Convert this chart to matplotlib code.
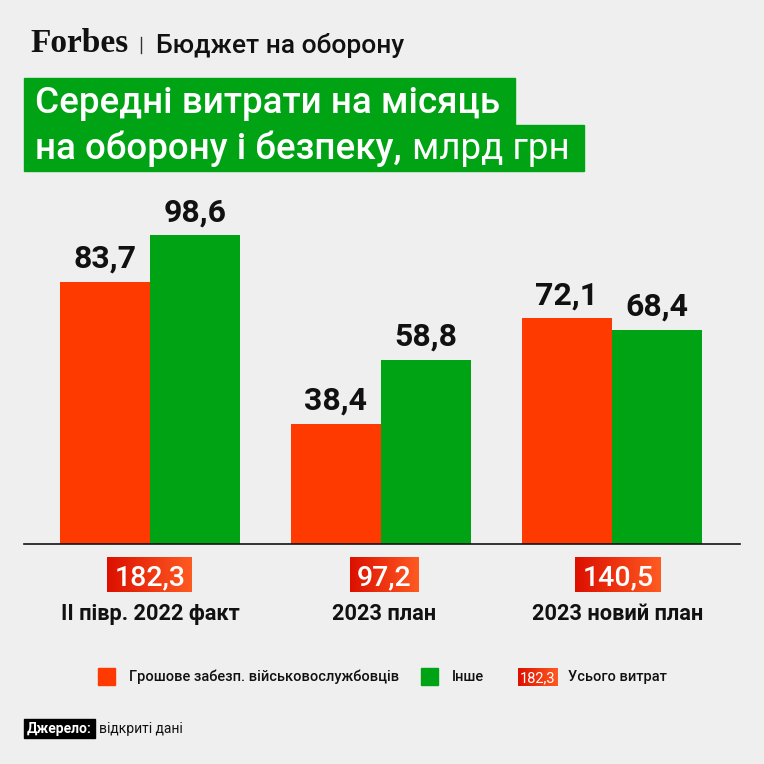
import numpy as np
import matplotlib
matplotlib.use('Agg')
import matplotlib.pyplot as plt
from matplotlib.patches import Rectangle
from matplotlib.colors import LinearSegmentedColormap

plt.rcParams['font.family'] = ['Roboto', 'DejaVu Sans']

# дані
categories = ['II півр. 2022 факт', '2023 план', '2023 новий план']
pay = [83.7, 38.4, 72.1]        # грошове забезпечення
other = [98.6, 58.8, 68.4]      # інше
totals = ['182,3', '97,2', '140,5']
pay_lbl = ['83,7', '38,4', '72,1']
other_lbl = ['98,6', '58,8', '68,4']

BG = '#efefef'
ORANGE = '#ff3a00'
GREEN = '#00a314'
W = 764.0

def fx(x):
    return x / W

def fy(y):
    return 1 - y / W

grad = LinearSegmentedColormap.from_list('tot', ['#dc1000', '#ff5a22'])

fig = plt.figure(figsize=(7.64, 7.64), dpi=100, facecolor=BG)
renderer = fig.canvas.get_renderer()

# шапка
fig.text(fx(30), fy(52), 'Forbes', family='Liberation Serif', weight='bold',
         fontsize=24, color='#111111', va='baseline')
fig.add_artist(plt.Line2D([fx(141), fx(141)], [fy(37), fy(53)], color='#333333', lw=1))
fig.text(fx(156), fy(53), 'Бюджет на оборону', fontsize=19, weight='medium',
         color='#111111', va='baseline')

# заголовок у зелених плашках
t1 = fig.text(fx(35), fy(113), 'Середні витрати на місяць', fontsize=26.5,
              weight='medium', color='white', va='baseline', zorder=5)
t2 = fig.text(fx(35), fy(159), 'на оборону і безпеку,', fontsize=26.5,
              weight='medium', color='white', va='baseline', zorder=5)
e2 = t2.get_window_extent(renderer)
t3 = fig.text(fx(e2.x1 + 10), fy(159), 'млрд грн', fontsize=26.5,
              weight='normal', color='white', va='baseline', zorder=5)
e1 = t1.get_window_extent(renderer)
e3 = t3.get_window_extent(renderer)
fig.add_artist(Rectangle((fx(24), fy(125)), fx(e1.x1 + 15 - 24), 47 / W,
                         color=GREEN, zorder=2))
fig.add_artist(Rectangle((fx(24), fy(171)), fx(e3.x1 + 15 - 24), 46 / W,
                         color=GREEN, zorder=2))

# стовпчики
ax = fig.add_axes([fx(24), fy(544), fx(740 - 24), (544 - 199.6) / W])
ax.set_facecolor(BG)
x = np.arange(len(categories))
bw = 0.39
ax.bar(x - bw / 2, pay, bw, color=ORANGE)
ax.bar(x + bw / 2, other, bw, color=GREEN)
for i in range(len(x)):
    ax.annotate(pay_lbl[i], (x[i] - bw / 2, pay[i]), xytext=(0, 14),
                textcoords='offset pixels', ha='center', va='baseline',
                fontsize=23, weight='bold', color='#111111')
    ax.annotate(other_lbl[i], (x[i] + bw / 2, other[i]), xytext=(0, 14),
                textcoords='offset pixels', ha='center', va='baseline',
                fontsize=23, weight='bold', color='#111111')
ax.set_xlim(-0.545, 2.554)
ax.set_ylim(0, 110)
for s in ['left', 'right', 'top']:
    ax.spines[s].set_visible(False)
ax.spines['bottom'].set_linewidth(1.2)
ax.spines['bottom'].set_color('#111111')
ax.set_xticks([])
ax.set_yticks([])

# підсумки та підписи категорій
for i in range(len(x)):
    cx = ax.transData.transform((x[i], 0))[0] + 3 * i
    tt = fig.text(cx / W, fy(585), totals[i], fontsize=20.5, color='white',
                  weight='medium', ha='center', va='baseline', zorder=5)
    te = tt.get_window_extent(renderer)
    bx = fig.add_axes([fx(te.x0 - 7), fy(592), fx(te.width + 14), 35 / W], zorder=1)
    bx.imshow(np.linspace(0, 1, 100).reshape(1, -1), aspect='auto', cmap=grad)
    bx.axis('off')
    fig.text(cx / W, fy(620), categories[i], fontsize=15.7, weight='bold',
             color='#111111', ha='center', va='baseline')

# легенда
fig.add_artist(Rectangle((fx(98), fy(685)), 17 / W, 17 / W, color=ORANGE))
fig.text(fx(129), fy(681), 'Грошове забезп. військовослужбовців', fontsize=10.5,
         weight='medium', color='#111111', va='baseline')
fig.add_artist(Rectangle((fx(421), fy(685)), 17 / W, 17 / W, color=GREEN))
fig.text(fx(452), fy(681), 'Інше', fontsize=10.5, weight='medium',
         color='#111111', va='baseline')
lb = fig.add_axes([fx(518), fy(686), 40 / W, 18 / W], zorder=1)
lb.imshow(np.linspace(0, 1, 100).reshape(1, -1), aspect='auto', cmap=grad)
lb.axis('off')
fig.text(fx(538), fy(682), '182,3', fontsize=10.5, color='white', ha='center',
         va='baseline', zorder=5)
fig.text(fx(568), fy(681), 'Усього витрат', fontsize=10.5, weight='medium',
         color='#111111', va='baseline')

# джерело
fig.add_artist(Rectangle((fx(24), fy(738)), 71 / W, 19 / W, color='black'))
fig.text(fx(27), fy(733), 'Джерело:', fontsize=10, weight='bold', color='white',
         va='baseline', zorder=5)
fig.text(fx(99), fy(733), 'відкриті дані', fontsize=10, color='#111111',
         va='baseline')

fig.savefig('out.png', dpi=100, facecolor=BG)
